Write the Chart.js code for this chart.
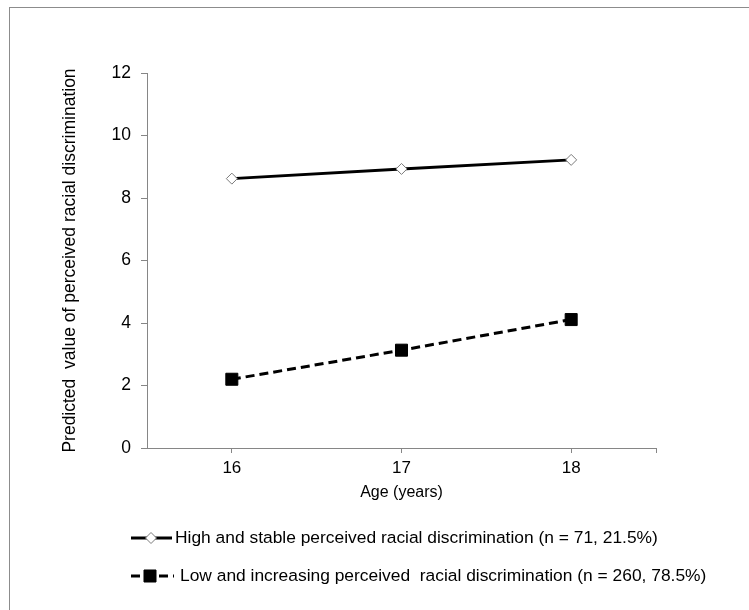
<!DOCTYPE html>
<html>
<head>
<meta charset="utf-8">
<script src="https://cdn.jsdelivr.net/npm/chart.js@4/dist/chart.umd.min.js"></script>
<style>
  html,body{margin:0;padding:0;background:#fff;}
  #wrap{position:relative;width:749px;height:610px;overflow:hidden;}
  #frame{position:absolute;left:9px;top:7px;width:760px;height:620px;border:1px solid #8c8c8c;box-sizing:border-box;pointer-events:none;}
  canvas{position:absolute;left:0;top:0;}
</style>
</head>
<body>
<div id="wrap">
<canvas id="c" width="749" height="610"></canvas>
<div id="frame"></div>
</div>
<script>
const ages = ["16", "17", "18"];
const highStable = [8.62, 8.93, 9.22];
const lowIncreasing = [2.2, 3.13, 4.11];
const yTicks = [0, 2, 4, 6, 8, 10, 12];
const seriesNames = [
  "High and stable perceived racial discrimination (n = 71, 21.5%)",
  "Low and increasing perceived  racial discrimination (n = 260, 78.5%)"
];
const xTitle = "Age (years)";
const yTitle = "Predicted  value of perceived racial discrimination";

const FONT = "'Liberation Sans', Arial, sans-serif";
const axisGrey = "#868686";

const legendPlugin = {
  id: "customLegend",
  afterDraw(chart) {
    const ctx = chart.ctx;
    const rows = [
      {y: 538, x0: 131, x1: 172, px: 151, tx: 175},
      {y: 576, x0: 131, x1: 174, px: 150, tx: 180}
    ];
    chart.data.datasets.forEach((ds, i) => {
      const r = rows[i];
      ctx.save();
      ctx.strokeStyle = ds.borderColor;
      ctx.lineWidth = ds.borderWidth;
      ctx.setLineDash(ds.borderDash || []);
      ctx.beginPath();
      ctx.moveTo(r.x0, r.y);
      ctx.lineTo(r.x1, r.y);
      ctx.stroke();
      ctx.setLineDash([]);
      ctx.fillStyle = ds.pointBackgroundColor;
      ctx.strokeStyle = ds.pointBorderColor;
      ctx.lineWidth = ds.pointBorderWidth;
      Chart.helpers.drawPoint(ctx, {pointStyle: ds.pointStyle, radius: ds.pointRadius, rotation: 0, borderWidth: ds.pointBorderWidth}, r.px, r.y);
      ctx.fillStyle = "#000";
      ctx.font = "17.4px " + FONT;
      ctx.textBaseline = "middle";
      ctx.textAlign = "left";
      ctx.fillText(ds.label, r.tx, r.y);
      ctx.restore();
    });
  }
};

new Chart(document.getElementById("c"), {
  type: "line",
  data: {
    datasets: [
      {
        label: seriesNames[0],
        data: ages.map((a, i) => ({x: Number(a), y: highStable[i]})),
        borderColor: "#000",
        borderWidth: 3,
        pointStyle: "rectRot",
        pointRadius: 5.5,
        pointBackgroundColor: "#fff",
        pointBorderColor: "#7a7a7a",
        pointBorderWidth: 1,
        tension: 0
      },
      {
        label: seriesNames[1],
        data: ages.map((a, i) => ({x: Number(a), y: lowIncreasing[i]})),
        borderColor: "#000",
        borderWidth: 3,
        borderDash: [9, 5],
        pointStyle: "rect",
        pointRadius: 8.5,
        pointBackgroundColor: "#000",
        pointBorderColor: "#000",
        pointBorderWidth: 1,
        tension: 0
      }
    ]
  },
  options: {
    responsive: false,
    animation: false,
    events: [],
    layout: {padding: {left: 57, top: 73, right: 93, bottom: 104}},
    plugins: {legend: {display: false}, tooltip: {enabled: false}},
    scales: {
      x: {
        type: "linear",
        min: 15.5,
        max: 18.5,
        afterBuildTicks(scale) {
          scale.ticks = ages.map(a => ({value: Number(a)})).concat([{value: 18.5}]);
        },
        afterFit(scale) { scale.height = 58; },
        ticks: {
          autoSkip: false,
          maxRotation: 0,
          padding: 5,
          color: "#000",
          font: {family: FONT, size: 17}
        ,
          callback(v) { const s = String(v); return ages.includes(s) ? s : ""; }
        },
        grid: {drawOnChartArea: false, tickLength: 5, color: axisGrey, lineWidth: 1},
        border: {color: axisGrey, width: 1},
        title: {display: true, text: xTitle, color: "#000", font: {family: FONT, size: 16}, padding: {top: 0, bottom: 4}}
      },
      y: {
        min: 0,
        max: 12,
        afterBuildTicks(scale) { scale.ticks = yTicks.map(v => ({value: v})); },
        afterFit(scale) { scale.width = 90; },
        ticks: {
          padding: 10,
          color: "#000",
          font: {family: FONT, size: 17.5}
        },
        grid: {drawOnChartArea: false, tickLength: 6, color: axisGrey, lineWidth: 1},
        border: {color: axisGrey, width: 1},
        title: {display: true, text: yTitle, color: "#000", font: {family: FONT, size: 17.5}, padding: {top: 3, bottom: 0}}
      }
    }
  },
  plugins: [legendPlugin]
});
</script>
</body>
</html>
